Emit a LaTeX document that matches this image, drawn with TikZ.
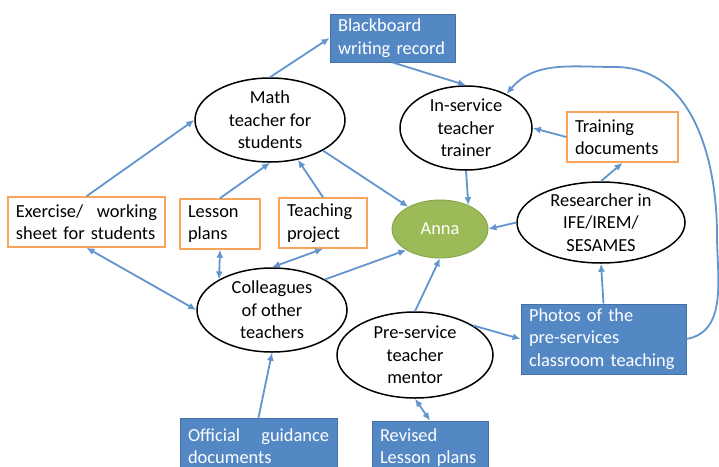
\documentclass[tikz,border=0pt]{standalone}
\usepackage{fontspec}
\setmainfont{Carlito}
\usetikzlibrary{arrows.meta,shapes.geometric}
\definecolor{boxblue}{RGB}{84,136,197}
\definecolor{boxblueline}{RGB}{68,112,168}
\definecolor{arrblue}{RGB}{98,148,206}
\definecolor{orangeline}{RGB}{247,165,92}
\definecolor{annagreen}{RGB}{155,187,89}
\definecolor{annaline}{RGB}{128,160,72}
\begin{document}
\begin{tikzpicture}[x=1pt,y=-1pt,
  every node/.style={font=\fontsize{18.4}{22.5}\selectfont, inner sep=0pt},
  ell/.style={ellipse, draw=black, line width=1.5pt, fill=white},
  obox/.style={rectangle, draw=orangeline, line width=1.5pt, fill=white, align=left, inner xsep=8pt},
  bbox/.style={rectangle, draw=boxblueline, line width=0.8pt, fill=boxblue, text=white, align=left, inner xsep=8pt},
  arr/.style={draw=arrblue, line width=1.8pt, -{Latex[length=8pt,width=7pt]}},
  darr/.style={draw=arrblue, line width=1.8pt, {Latex[length=8pt,width=7pt]}-{Latex[length=8pt,width=7pt]}},
]
\useasboundingbox (0,0) rectangle (719,466);

% blue boxes
\node[bbox, text width=109pt, minimum height=48pt] (bb) at (392.5,38) {Blackboard\\writing record};
\node[bbox, text width=149pt, minimum height=70pt] (ph) at (603.5,339) {Photos of the\\pre-services\\classroom teaching};
\node[bbox, text width=141pt, minimum height=56pt] (off) at (258.5,446) {Official\hfill guidance\\documents};
\node[bbox, text width=100pt, minimum height=53pt] (rev) at (430,447.5) {Revised\\Lesson plans};

% orange boxes
\node[obox, text width=95pt, minimum height=50pt] (tr) at (622.5,137) {Training\\documents};
\node[obox, text width=141pt, minimum height=50pt] (ex) at (86.5,222) {Exercise/\hfill working\\sheet for students};
\node[obox, text width=64pt, minimum height=50pt] (lp) at (220,224) {Lesson\\plans};
\node[obox, text width=72pt, minimum height=50pt] (tp) at (323,223) {Teaching\\project};

% ellipses
\node[ell, minimum width=150pt, minimum height=84pt,
  label={[align=center]center:Math\\teacher for\\students}] (math) at (270,120) {};
\node[ell, minimum width=132pt, minimum height=84pt,
  label={[align=center]center:In-service\\teacher\\trainer}] (ins) at (466,128) {};
\node[ell, minimum width=168pt, minimum height=81pt,
  label={[align=center]center:Researcher in\\IFE/IREM/\\SESAMES}] (res) at (601,222.5) {};
\node[ell, minimum width=150pt, minimum height=84pt,
  label={[align=center]center:Colleagues\\of other\\teachers}] (col) at (272,310) {};
\node[ell, minimum width=156pt, minimum height=86pt,
  label={[align=center]center:Pre-service\\teacher\\mentor}] (pre) at (415,355) {};
\node[ellipse, draw=annaline, line width=0.8pt, fill=annagreen, minimum width=96pt, minimum height=58pt,
  label={[text=white]center:Anna}] (anna) at (440,229) {};

% connectors
\draw[arr] (math.north) -- (bb.west);
\draw[arr] (bb.south) -- (ins.north);
\draw[arr] (ex.north) -- (math.west);
\draw[arr] (lp.north) -- (math.south);
\draw[arr] (tp.north) -- (math.-55);
\draw[arr] (math.-30) -- (anna.145);
\draw[arr] (ins.south) -- (anna.40);
\draw[arr] (tr.west) -- (ins.east);
\draw[arr] (res.north) -- (tr.south);
\draw[arr] (res.west) -- (anna.east);
\draw[darr] (ex.south) -- (col.west);
\draw[darr] (lp.south) -- (col.150);
\draw[darr] (tp.south) -- (col.north);
\draw[arr] (col.30) -- (anna.212);
\draw[arr] (off.north) -- (col.south);
\draw[arr] (pre.north) -- (anna.south);
\draw[arr] (pre.27) -- (ph.west);
\draw[arr] (ph.north) -- (res.south);
\draw[darr] (pre.south) -- (rev.north);
\coordinate (c1) at (717,235);
\coordinate (c2) at (615,67);
\draw[arr] (ph.east) to[out=10,in=-90] (c1) to[out=90,in=0] (c2) to[out=180,in=50] (ins.40);
\end{tikzpicture}
\end{document}
